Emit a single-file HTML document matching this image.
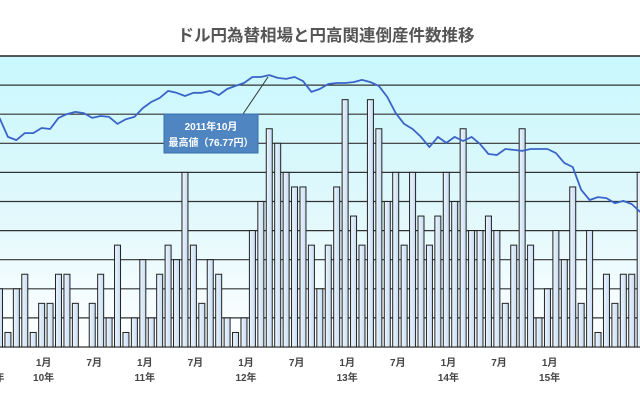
<!DOCTYPE html>
<html><head><meta charset="utf-8">
<style>
html,body{margin:0;padding:0;background:#fff;}
svg{display:block;font-family:"Liberation Sans","Noto Sans CJK JP",sans-serif;}
</style></head>
<body>
<svg id="chart" width="640" height="400" viewBox="0 0 640 400" xmlns="http://www.w3.org/2000/svg">
<defs>
<linearGradient id="bg" x1="0" y1="0" x2="0" y2="1">
<stop offset="0" stop-color="#c8f8fd"/>
<stop offset="0.5" stop-color="#dff8fc"/>
<stop offset="1" stop-color="#ffffff"/>
</linearGradient>
<linearGradient id="barg" x1="0" y1="0" x2="1" y2="0">
<stop offset="0" stop-color="#eef5fd"/>
<stop offset="1" stop-color="#c5dcf3"/>
</linearGradient>
</defs>
<text x="326" y="41" text-anchor="middle" font-size="16.5" font-weight="bold" fill="#555">ドル円為替相場と円高関連倒産件数推移</text>
<rect x="0" y="56" width="640" height="291" fill="url(#bg)"/>
<g id="grid"></g>
<g id="bars"></g>
<g id="line"></g>
<g id="xlabels"></g>
<line x1="243" y1="114" x2="268" y2="77" stroke="#333" stroke-width="1"/>
<rect x="164" y="114" width="94" height="39" fill="#4f86c2" stroke="#3a6fa8"/>
<text x="211" y="130" text-anchor="middle" font-size="10" font-weight="bold" fill="#fff">2011年10月</text>
<text x="211" y="146" text-anchor="middle" font-size="10" font-weight="bold" fill="#fff">最高値（76.77円）</text>
</svg>
<script>
// bankruptcy counts (grid units), monthly from Jan 2009
const barValues=[2,0.5,2,2.5,0.5,1.5,1.5,2.5,2.5,1.5,0,1.5,2.5,1,3.5,0.5,1,3,1,2.5,3.5,3,6,3.5,1.5,3,2.5,1,0.5,1,4,5,7.5,7,6,5.5,5.5,3.5,2,3.5,5.5,8.5,4.5,3.5,8.5,7.5,5,6,3.5,6,4.5,3.5,4.5,6,5,7.5,4,4,4.5,4,1.5,3.5,7.5,3.5,1,2,4,3,5.5,1.5,4,0.5,2.5,1.5,2.5,2.5,6];
// USD/JPY monthly
const yenValues=[90.3,96.3,97.3,95.1,95.1,93.5,93.8,90.3,89.1,88.4,88.8,90.3,89.7,90.0,92.2,90.7,90.0,87.2,85.3,84.0,81.8,82.4,83.4,82.4,82.4,81.8,83.1,81.2,80.2,79.3,77.4,77.4,76.8,77.7,78.0,77.4,78.7,82.1,81.2,79.6,79.3,79.3,79.0,78.3,79.0,80.2,83.7,88.8,92.2,93.8,96.3,99.5,96.3,98.2,96.3,97.6,96.3,98.5,101.7,102.0,100.1,100.4,100.7,100.1,100.1,100.1,101.4,104.5,105.8,113.0,116.2,115.3,115.6,117.2,116.5,117.5,120.0];
const monthLabels=["7月","1月","7月","1月","7月","1月","7月","1月","7月","1月","7月","1月"];
const yearLabels=["","10年","","11年","","12年","","13年","","14年","","15年"];

const NS="http://www.w3.org/2000/svg";
const plotBottom=347, unit=29.1;
const xOf=i=>8.43*i-0.5;
const yBar=v=>plotBottom-v*unit;
const yYen=v=>75+(v-76.77)*3.17;
function mk(t,a){const e=document.createElementNS(NS,t);for(const k in a)e.setAttribute(k,a[k]);return e;}

const grid=document.getElementById('grid');
for(let g=0;g<=10;g++){
  const l=mk('line',{x1:0,x2:640,y1:yBar(g),y2:yBar(g),stroke:g==10?'#222':'#333','stroke-width':g==10?1.5:1.2});
  
  
  grid.appendChild(l);
}
const bars=document.getElementById('bars');
barValues.forEach((v,i)=>{
  if(v<=0)return;
  const r=mk('rect',{x:xOf(i)-3,y:yBar(v),width:6,height:v*unit,fill:'url(#barg)',stroke:'#222','stroke-width':1});
  
  
  bars.appendChild(r);
});
const pts=yenValues.map((v,i)=>xOf(i).toFixed(1)+','+yYen(v).toFixed(1)).join(' ');
const pl=mk('polyline',{points:pts,fill:'none',stroke:'#3a64c8','stroke-width':1.8,'stroke-linejoin':'round'});


document.getElementById('line').appendChild(pl);

const xl=document.getElementById('xlabels');
monthLabels.forEach((m,k)=>{
  const x=-7+k*50.6;
  const t=mk('text',{x:x,y:366,'text-anchor':'middle','font-size':10,'font-weight':'bold',fill:'#444'});
  t.textContent=m;
  
  
  xl.appendChild(t);
  if(yearLabels[k]){
    const y=mk('text',{x:x,y:381,'text-anchor':'middle','font-size':10,'font-weight':'bold',fill:'#444'});
    y.textContent=yearLabels[k];
    
    
    xl.appendChild(y);
  }
});
const y0=mk('text',{x:-6,y:381,'text-anchor':'middle','font-size':10,'font-weight':'bold',fill:'#444'});
y0.textContent="09年";


xl.appendChild(y0);
</script>
</body></html>
